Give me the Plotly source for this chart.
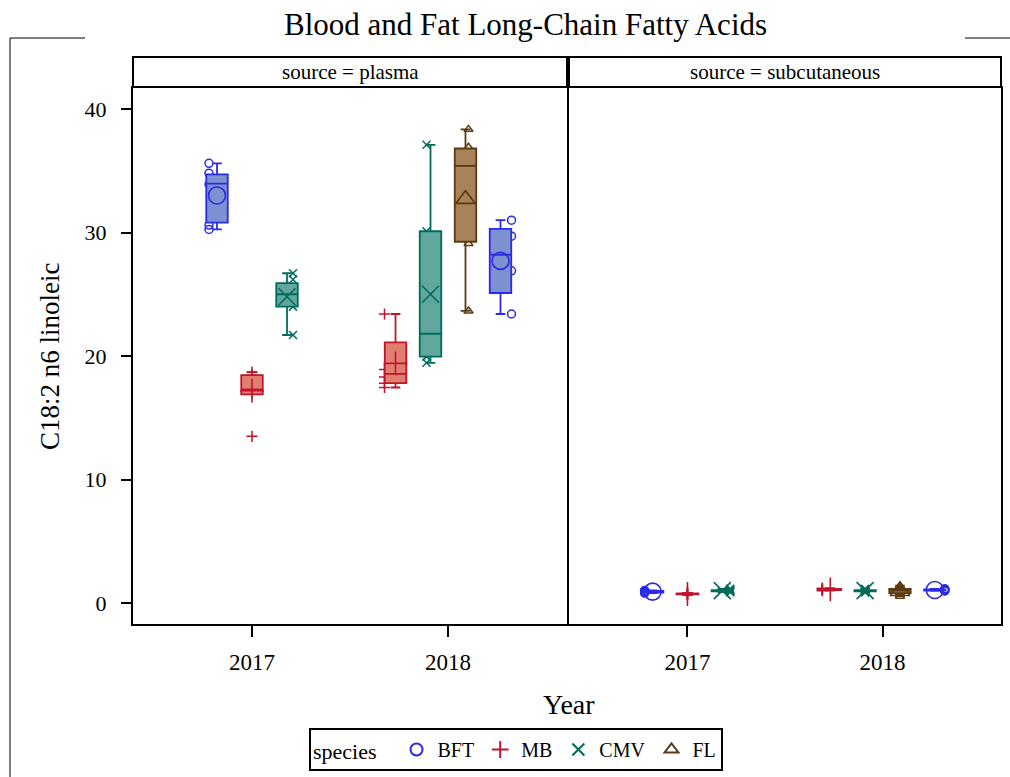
import plotly.graph_objects as go

# ---------------- data ----------------
species_order = ["BFT", "MB", "CMV", "FL"]
years = [2017, 2018]
year_labels = ["2017", "2018"]

# one entry per box
box_source = ["plasma"] * 7 + ["subcutaneous"] * 7
box_year = [2017, 2017, 2017, 2018, 2018, 2018, 2018] * 2
box_species = ["BFT", "MB", "CMV", "MB", "CMV", "FL", "BFT"] * 2

box_q1 = [30.8, 16.9, 24.0, 17.8, 19.95, 29.25, 25.1,
          0.85, 0.70, 0.95, 1.05, 0.95, 0.80, 1.00]
box_median = [33.95, 17.3, 25.0, 18.55, 21.8, 35.4, 28.2,
              0.90, 0.74, 1.00, 1.10, 1.00, 1.00, 1.05]
box_q3 = [34.7, 18.45, 25.9, 21.1, 30.1, 36.8, 30.3,
          0.97, 0.78, 1.05, 1.15, 1.05, 1.15, 1.10]
box_low = [30.25, 16.9, 21.7, 17.45, 19.45, 23.65, 23.4,
           0.80, 0.65, 0.88, 1.00, 0.85, 0.55, 0.98]
box_high = [35.6, 18.7, 26.7, 23.4, 37.1, 38.35, 31.0,
            1.02, 0.82, 1.15, 1.20, 1.15, 1.40, 1.15]
box_mean = [33.0, 17.2, 24.8, 19.4, 25.0, 32.7, 27.7,
            0.92, 0.73, 1.00, 1.10, 1.00, 0.95, 1.05]

# individual observations per box
box_points = [
    [35.6, 34.8, 33.9, 30.6, 30.25],
    [18.7, 18.45, 17.3, 17.0, 13.5],
    [26.7, 26.2, 25.5, 24.0, 21.7],
    [23.4, 18.9, 18.3, 17.8, 17.45],
    [37.1, 30.1, 21.8, 19.95, 19.45],
    [38.35, 36.9, 35.4, 29.1, 23.65],
    [31.0, 29.7, 26.9, 23.4],
    [0.80, 0.88, 0.92, 0.97, 1.02],
    [0.65, 0.72, 0.74, 0.78, 0.82],
    [0.88, 0.95, 1.00, 1.05, 1.15],
    [1.00, 1.05, 1.10, 1.15, 1.20],
    [0.85, 0.95, 1.00, 1.05, 1.15],
    [0.55, 0.80, 1.00, 1.15, 1.40],
    [0.98, 1.00, 1.05, 1.10, 1.15],
]

# ---------------- style ----------------
FONT = "Liberation Serif, Times New Roman, serif"
W, H = 1010, 777
line_col = {"BFT": "#2b2be6", "MB": "#c0142e", "CMV": "#006b5c", "FL": "#5a3a10"}
fill_col = {"BFT": "#7f90d0", "MB": "#e07f70", "CMV": "#62a79d", "FL": "#a8825a"}
mean_sym = {"BFT": "circle-open", "MB": "cross-thin-open", "CMV": "x-thin-open", "FL": "triangle-up-open"}
pt_sym = mean_sym
PX_PER_YEAR = 196.0
CLUSTER_PX = 35.0
BOX_W = 21.5 / PX_PER_YEAR
# horizontal shift of the observation markers relative to box centre (pixels)
pt_shift_px = [-8, 0, 6, -11, -4, 3, 11, -8, 0, 8, -8, 0, 0, 10]

x_range = [2017 - 119 / PX_PER_YEAR, 2018 + 119 / PX_PER_YEAR]
y_range = [-1.7, 41.7]


def pfx(px):
    return px / W


def pfy(py):
    return 1 - py / H


fig = go.Figure()

# positions by cluster order within each source/year
positions = []
for i in range(len(box_year)):
    grp = [j for j in range(len(box_year))
           if box_year[j] == box_year[i] and box_source[j] == box_source[i]]
    k = grp.index(i)
    n = len(grp)
    positions.append(box_year[i] + (k - (n - 1) / 2) * CLUSTER_PX / PX_PER_YEAR)

axes_base = {"plasma": ("x", "y"), "subcutaneous": ("x2", "y2")}
axes_over = {"plasma": ("x", "y3"), "subcutaneous": ("x2", "y4")}

# observation markers (behind boxes)
for i in range(len(box_year)):
    sp = box_species[i]
    xa, ya = axes_base[box_source[i]]
    xp = positions[i] + pt_shift_px[i] / PX_PER_YEAR
    fig.add_trace(go.Scatter(
        x=[xp] * len(box_points[i]), y=box_points[i], mode="markers",
        marker=dict(symbol=pt_sym[sp], size=8, color=line_col[sp],
                    line=dict(width=1.5, color=line_col[sp])),
        xaxis=xa, yaxis=ya, showlegend=False, hoverinfo="skip"))

# boxes (overlay subplot, above the points)
for i in range(len(box_year)):
    sp = box_species[i]
    xa, ya = axes_over[box_source[i]]
    fig.add_trace(go.Box(
        x=[positions[i]], q1=[box_q1[i]], median=[box_median[i]], q3=[box_q3[i]],
        lowerfence=[box_low[i]], upperfence=[box_high[i]],
        width=BOX_W, whiskerwidth=0.45, boxpoints=False,
        fillcolor=fill_col[sp], line=dict(color=line_col[sp], width=1.8),
        xaxis=xa, yaxis=ya, showlegend=False, hoverinfo="skip"))

# means
for i in range(len(box_year)):
    sp = box_species[i]
    xa, ya = axes_over[box_source[i]]
    fig.add_trace(go.Scatter(
        x=[positions[i]], y=[box_mean[i]], mode="markers",
        marker=dict(symbol=mean_sym[sp], size=17, color=line_col[sp],
                    line=dict(width=1.6, color=line_col[sp])),
        xaxis=xa, yaxis=ya, showlegend=False, hoverinfo="skip"))

# legend entries
for sp in species_order:
    fig.add_trace(go.Scatter(
        x=[None], y=[None], mode="markers", name=sp,
        marker=dict(symbol=mean_sym[sp], size=10, color=line_col[sp],
                    line=dict(width=1.6, color=line_col[sp])),
        xaxis="x", yaxis="y"))

dom_y = [pfy(624), pfy(88)]
dom_x1 = [pfx(133), pfx(567)]
dom_x2 = [pfx(569), pfx(1001)]

xcommon = dict(range=x_range, tickvals=years, ticktext=year_labels, ticks="outside",
               ticklen=11, tickwidth=1.5, tickcolor="black", showline=True, mirror=True,
               linewidth=2, linecolor="black", showgrid=False, zeroline=False,
               tickfont=dict(family=FONT, size=23, color="black"), ticklabelstandoff=5)
ycommon = dict(range=y_range, showline=True, mirror=True, linewidth=2, linecolor="black",
               showgrid=False, zeroline=False, domain=dom_y)

fig.update_layout(
    width=W, height=H, margin=dict(l=0, r=0, t=0, b=0),
    paper_bgcolor="white", plot_bgcolor="white",
    font=dict(family=FONT, color="black"),
    xaxis=dict(domain=dom_x1, anchor="y", **xcommon),
    xaxis2=dict(domain=dom_x2, anchor="y2", **xcommon),
    yaxis=dict(anchor="x", tickvals=[0, 10, 20, 30, 40], ticks="outside", ticklen=10,
               tickwidth=1.5, tickcolor="black", ticklabelstandoff=10,
               tickfont=dict(family=FONT, size=22, color="black"), **ycommon),
    yaxis2=dict(anchor="x2", showticklabels=False, ticks="", **ycommon),
    yaxis3=dict(overlaying="y", anchor="x", range=y_range, visible=False),
    yaxis4=dict(overlaying="y2", anchor="x2", range=y_range, visible=False),
    legend=dict(orientation="h", x=pfx(516), xanchor="center", y=pfy(728), yanchor="top",
                bordercolor="black", borderwidth=2, bgcolor="white",
                font=dict(family=FONT, size=20, color="black"),
                title=dict(text="species  ", font=dict(family=FONT, size=22, color="black")),
                itemsizing="constant", itemwidth=32, tracegroupgap=0),
    showlegend=True,
)

# strip headers
strips = [("source = plasma", 133, 567), ("source = subcutaneous", 569, 1001)]
for txt, x0, x1 in strips:
    fig.add_shape(type="rect", xref="paper", yref="paper", x0=pfx(x0), x1=pfx(x1),
                  y0=pfy(87), y1=pfy(57), line=dict(color="black", width=2), fillcolor="white")
    fig.add_annotation(text=txt, xref="paper", yref="paper", x=pfx((x0 + x1) / 2), y=pfy(72),
                       showarrow=False, font=dict(family=FONT, size=21, color="black"),
                       xanchor="center", yanchor="middle")

# outer border fragments
for x0, y0, x1, y1 in [(10, 38, 85, 38), (965, 38, 1010, 38), (10, 38, 10, 777)]:
    fig.add_shape(type="line", xref="paper", yref="paper", x0=pfx(x0), y0=pfy(y0),
                  x1=pfx(x1), y1=pfy(y1), line=dict(color="black", width=1))

# title and axis titles
fig.add_annotation(text="Blood and Fat Long-Chain Fatty Acids", xref="paper", yref="paper",
                   x=pfx(525), y=pfy(25), showarrow=False, xanchor="center", yanchor="middle",
                   font=dict(family=FONT, size=31, color="black"))
fig.add_annotation(text="C18:2 n6 linoleic", xref="paper", yref="paper", x=pfx(50), y=pfy(356),
                   textangle=-90, showarrow=False, xanchor="center", yanchor="middle",
                   font=dict(family=FONT, size=27, color="black"))
fig.add_annotation(text="Year", xref="paper", yref="paper", x=pfx(569), y=pfy(704),
                   showarrow=False, xanchor="center", yanchor="middle",
                   font=dict(family=FONT, size=28, color="black"))

fig.write_html("out.html")
